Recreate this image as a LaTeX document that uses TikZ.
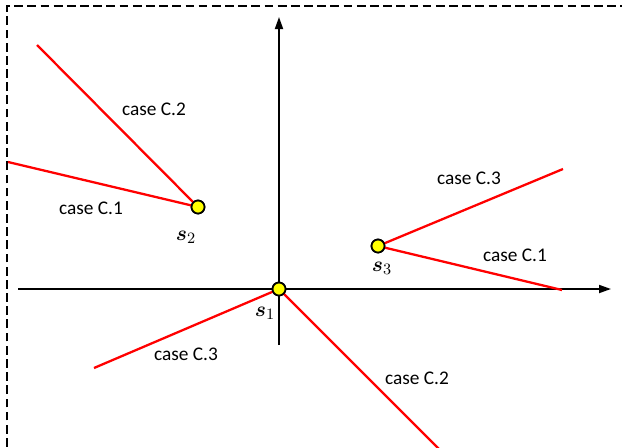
\documentclass[tikz,border=0pt]{standalone}
\usepackage{fontspec}
\setmainfont{Carlito}
\usepackage{amsmath,bm}
\definecolor{ray}{HTML}{FF0000}
\definecolor{site}{HTML}{FFFF00}
\usetikzlibrary{arrows.meta}

\begin{document}
\begin{tikzpicture}[
  x=0.02cm, y=-0.02cm,
  font=\fontsize{11}{13}\selectfont,
  site/.style={
    circle, draw=black, fill=site, line width=1pt,
    inner sep=0pt, minimum size=0.26cm
  },
  ray/.style={draw=ray, line width=1.3pt},
  axis/.style={-{Triangle[length=2.4mm, width=1.6mm]}, line width=1pt},
  frame/.style={line width=1pt, dash pattern=on 5pt off 2.5pt},
  lab/.style={font=\fontsize{13}{15}\selectfont}
]
  \useasboundingbox (0,0) rectangle (622,447);
  \draw[frame] (7,460) -- (7,6) -- (640,6);

  % axes
  \coordinate (xl) at (18,289);
  \coordinate (xr) at (611,289);
  \coordinate (yb) at (279,345);
  \coordinate (yt) at (279,17);
  \draw[axis] (xl) -- (xr);
  \draw[axis] (yb) -- (yt);

  % ray ends
  \coordinate (a2) at (37,45);
  \coordinate (a1) at (8,162);
  \coordinate (b3) at (563,169);
  \coordinate (b1) at (562,290);
  \coordinate (c3) at (94,368);
  \coordinate (c2) at (440,450);

  \node[site] (s1) at (279,289) {};
  \node[site] (s2) at (198,207) {};
  \node[site] (s3) at (378,246) {};

  \draw[ray] (s2.center) -- (a2);
  \draw[ray] (s2.center) -- (a1);
  \draw[ray] (s3.center) -- (b3);
  \draw[ray] (s3.center) -- (b1);
  \draw[ray] (s1.center) -- (c3);
  \draw[ray] (s1.center) -- (c2);

  % redraw sites on top
  \node[site] at (s1) {};
  \node[site] at (s2) {};
  \node[site] at (s3) {};

  \node[lab] (l1) at (265,313) {$\bm{s}_1$};
  \node[lab] (l2) at (186,237) {$\bm{s}_2$};
  \node[lab] (l3) at (382,268) {$\bm{s}_3$};

  \node (ka2) at (154,109) {case C.2};
  \node (ka1) at (91,208) {case C.1};
  \node (kb3) at (469,178) {case C.3};
  \node (kb1) at (515,255) {case C.1};
  \node (kc3) at (186,354) {case C.3};
  \node (kc2) at (417,378) {case C.2};
\end{tikzpicture}
\end{document}
